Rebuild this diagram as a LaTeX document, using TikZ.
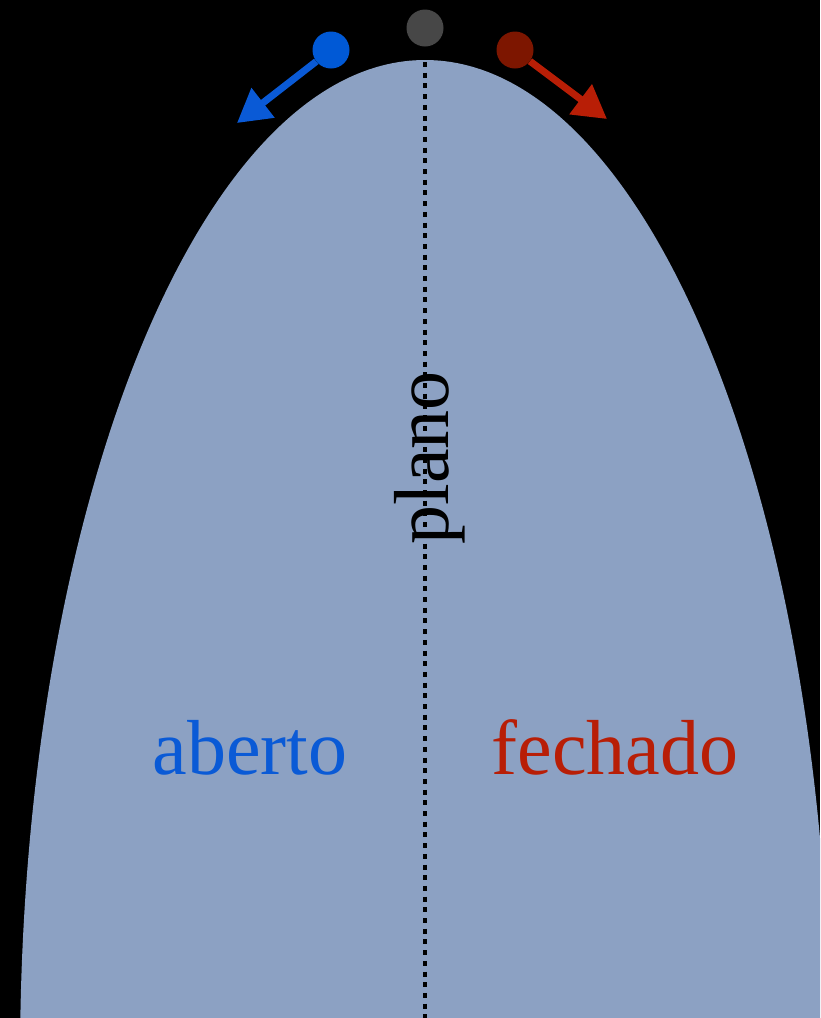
\documentclass[tikz,border=0pt]{standalone}
\usepackage{fontspec}
\setmainfont{Liberation Serif}
\usetikzlibrary{arrows.meta}
\definecolor{shellfill}{HTML}{8CA1C3}
\definecolor{openblue}{HTML}{0A5AD6}
\definecolor{closedred}{HTML}{B81E06}
\definecolor{dotblue}{HTML}{0059D6}
\definecolor{dotred}{HTML}{7D1600}
\definecolor{dotgrey}{HTML}{474747}

\begin{document}
\begin{tikzpicture}[
    x=1pt, y=-1pt,
    % dots on top of the curve
    ball/.style={circle, inner sep=0pt, minimum size=37pt},
    push/.style={line width=7pt, -{Triangle[length=33pt,width=36pt]}},
    word/.style={font=\fontsize{78}{90}\selectfont, inner sep=0pt, anchor=base}
]
    % Background
    \path[use as bounding box, fill=black] (0,0) rectangle (820,1018);

    % Curved space
    \begin{scope}
        \clip (0,0) rectangle (820,1018);
        \fill[shellfill] (425,1060) ellipse [x radius=405, y radius=1000];
        \draw[line width=4.5pt, dash pattern=on 5pt off 5.7pt] (425,62) -- (425,1018);
    \end{scope}

    % Labels
    \node[word, rotate=90] (plano) at (448,458) {plano};
    \node[word, text=openblue] (aberto) at (250,774) {aberto};
    \node[word, text=closedred] (fechado) at (615,774) {fechado};

    % Dots and arrows
    \node[ball, fill=dotgrey] (dotflat) at (425,28) {};
    \node[ball, fill=dotblue] (dotopen) at (331,50) {};
    \node[ball, fill=dotred] (dotclosed) at (515,50) {};
    \coordinate (tipopen) at (237,123);
    \coordinate (tipclosed) at (607,119);
    \draw[push, openblue] (dotopen) -- (tipopen);
    \draw[push, closedred] (dotclosed) -- (tipclosed);
\end{tikzpicture}
\end{document}
